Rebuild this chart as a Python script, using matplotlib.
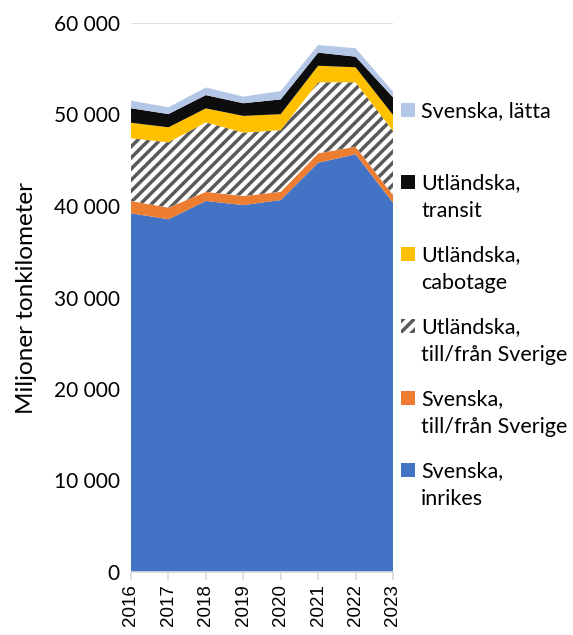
import matplotlib
matplotlib.use("Agg")
import matplotlib.pyplot as plt
import numpy as np
from matplotlib.patches import Rectangle

years = [2016, 2017, 2018, 2019, 2020, 2021, 2022, 2023]
svenska_inrikes = [39200, 38550, 40550, 40100, 40650, 44730, 45650, 40360]
svenska_till_fran = [1350, 1270, 1000, 1000, 900, 1030, 830, 840]
utl_till_fran = [6850, 7140, 7590, 6920, 6740, 7760, 7040, 7000]
utl_cabotage = [1700, 1640, 1530, 1830, 1750, 1810, 1640, 1750]
utl_transit = [1580, 1450, 1450, 1380, 1610, 1430, 1160, 1930]
svenska_latta = [830, 740, 830, 730, 910, 840, 920, 620]

labels = ["Svenska,\ninrikes", "Svenska,\ntill/från Sverige", "Utländska,\ntill/från Sverige",
          "Utländska,\ncabotage", "Utländska,\ntransit", "Svenska, lätta"]
series = [svenska_inrikes, svenska_till_fran, utl_till_fran, utl_cabotage, utl_transit, svenska_latta]
colors = ["#4472C4", "#ED7D31", "#FFFFFF", "#FFC000", "#0D0D0D", "#B4C7E7"]
hatches = [None, None, "///", None, None, None]
yticks = [0, 10000, 20000, 30000, 40000, 50000, 60000]
ytick_labels = ["0", "10 000", "20 000", "30 000", "40 000", "50 000", "60 000"]

plt.rcParams["hatch.color"] = "#595959"
plt.rcParams["hatch.linewidth"] = 2.5

fig = plt.figure(figsize=(5.73, 6.35), dpi=100)
ax = fig.add_axes([131/573, 1-572/635, (393-131)/573, (572-23)/635])

x = np.array(years)
lower = np.zeros(len(years))
for vals, c, h in zip(series, colors, hatches):
    upper = lower + np.array(vals)
    if h:
        ax.fill_between(x, lower, upper, facecolor=c, hatch=h, edgecolor="#595959", linewidth=0, zorder=2)
    else:
        ax.fill_between(x, lower, upper, facecolor=c, edgecolor="none", linewidth=0, zorder=2)
    lower = upper

ax.set_xlim(years[0], years[-1])
ax.set_ylim(0, 60000)
ax.set_yticks(yticks)
ax.set_yticklabels(ytick_labels, fontfamily="Lato", fontsize=15)
ax.set_xticks(years)
ax.set_xticklabels([str(y) for y in years], rotation=90, fontfamily="Liberation Sans", fontsize=13.5)
ax.tick_params(axis="y", length=0, pad=8)
ax.tick_params(axis="x", length=6, color="#d9d9d9", width=1.2, pad=3)
ax.yaxis.grid(True, color="#d9d9d9", linewidth=1.2, zorder=0)
ax.set_axisbelow(True)
for s in ["left", "right", "top"]:
    ax.spines[s].set_visible(False)
ax.spines["bottom"].set_color("#d9d9d9")
ax.spines["bottom"].set_linewidth(1.2)
ax.set_ylabel("Miljoner tonkilometer", fontfamily="Lato", fontsize=17.5, labelpad=12)

# legend (manual, reversed order)
W, H = 573, 635
for i, (lab, c, h) in enumerate(zip(labels[::-1], colors[::-1], hatches[::-1])):
    yc = 110 + 72 * i
    fig.patches.append(Rectangle((401/W, 1-(yc+7)/H), 14/W, 14/H, transform=fig.transFigure,
                                 facecolor=c, hatch=h, edgecolor="#595959" if h else "none", linewidth=0))
    for j, line in enumerate(lab.split("\n")):
        fig.text(421/W, 1-(yc+7+28*j)/H, line, fontfamily="Lato", fontsize=15.5,
                 va="baseline", ha="left")

fig.savefig("out.png", dpi=100)
